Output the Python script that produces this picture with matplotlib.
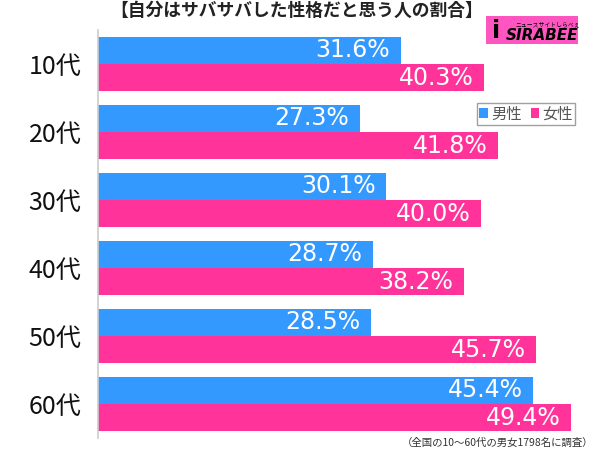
import matplotlib
matplotlib.use("Agg")
import matplotlib.pyplot as plt
from matplotlib.patches import Rectangle, Patch
import numpy as np

plt.rcParams['font.family'] = ['Noto Sans CJK JP', 'DejaVu Sans']

categories = ["10代", "20代", "30代", "40代", "50代", "60代"]
male = [31.6, 27.3, 30.1, 28.7, 28.5, 45.4]
female = [40.3, 41.8, 40.0, 38.2, 45.7, 49.4]
series_names = ["男性", "女性"]
title = "【自分はサバサバした性格だと思う人の割合】"
footnote = "（全国の10～60代の男女1798名に調査）"

blue = "#3399FF"
pink = "#FF3399"

fig = plt.figure(figsize=(6.0, 4.49), dpi=100)
ax = fig.add_axes([98/600, 1 - 438/449, 492/600, 408/449])

y = np.arange(len(categories))
h = 0.4
ax.barh(y - h/2, male, height=h, color=blue, edgecolor="none")
ax.barh(y + h/2, female, height=h, color=pink, edgecolor="none")

ax.set_xlim(0, 492/9.58)
ax.set_ylim(len(categories) - 0.5, -0.5)

for yi, v in zip(y - h/2, male):
    ax.annotate(f"{v:.1f}%", (v, yi), xytext=(-7.5, 0), textcoords="offset points",
                ha="right", va="center", color="white", fontsize=17,
                family=["DejaVu Sans"])
for yi, v in zip(y + h/2, female):
    ax.annotate(f"{v:.1f}%", (v, yi), xytext=(-7.5, 0), textcoords="offset points",
                ha="right", va="center", color="white", fontsize=17,
                family=["DejaVu Sans"])

ax.set_yticks(y)
ax.set_yticklabels(categories, fontsize=18, color="#111111")
ax.tick_params(axis="y", length=0, pad=12)
ax.set_xticks([])
for s in ["top", "right", "bottom"]:
    ax.spines[s].set_visible(False)
ax.spines["left"].set_color("#cccccc")
ax.spines["left"].set_linewidth(1.2)

fig.text(0.495, 1 - 11/449, title, ha="center", va="center", fontsize=12.8,
         fontweight="bold", color="#222222")

# logo
fig.patches.append(Rectangle((486/600, 1 - 44/449), 92/600, 28/449,
                             transform=fig.transFigure, facecolor="#FF55C0",
                             edgecolor="none", zorder=5))
fig.text(542/600, 1 - 36/449, "SIRABEE", ha="center", va="center", fontsize=11,
         fontweight="bold", fontstyle="italic", color="black", zorder=6,
         family=["DejaVu Sans"])
fig.text(548/600, 1 - 24/449, "ニュースサイトしらべぇ", ha="center", va="center",
         fontsize=4.2, color="black", zorder=6)
fig.text(496/600, 1 - 31/449, "i", ha="center", va="center", fontsize=17,
         fontweight="bold", color="black", zorder=6, family=["DejaVu Sans"])

handles = [Patch(facecolor=blue, edgecolor="none"), Patch(facecolor=pink, edgecolor="none")]
leg = fig.legend(handles, series_names, loc="center", bbox_to_anchor=(526/600, 1 - 114/449),
                 ncol=2, frameon=True, fontsize=11, handlelength=0.55, handleheight=0.55,
                 handletextpad=0.2, columnspacing=0.6, borderpad=0.15, fancybox=False,
                 labelcolor="#555555")
leg.get_frame().set_edgecolor("#888888")
leg.get_frame().set_linewidth(1.0)

fig.text(593/600, 1 - 443/449, footnote, ha="right", va="center", fontsize=7.5,
         color="#333333")

fig.savefig("out.png", dpi=100)
